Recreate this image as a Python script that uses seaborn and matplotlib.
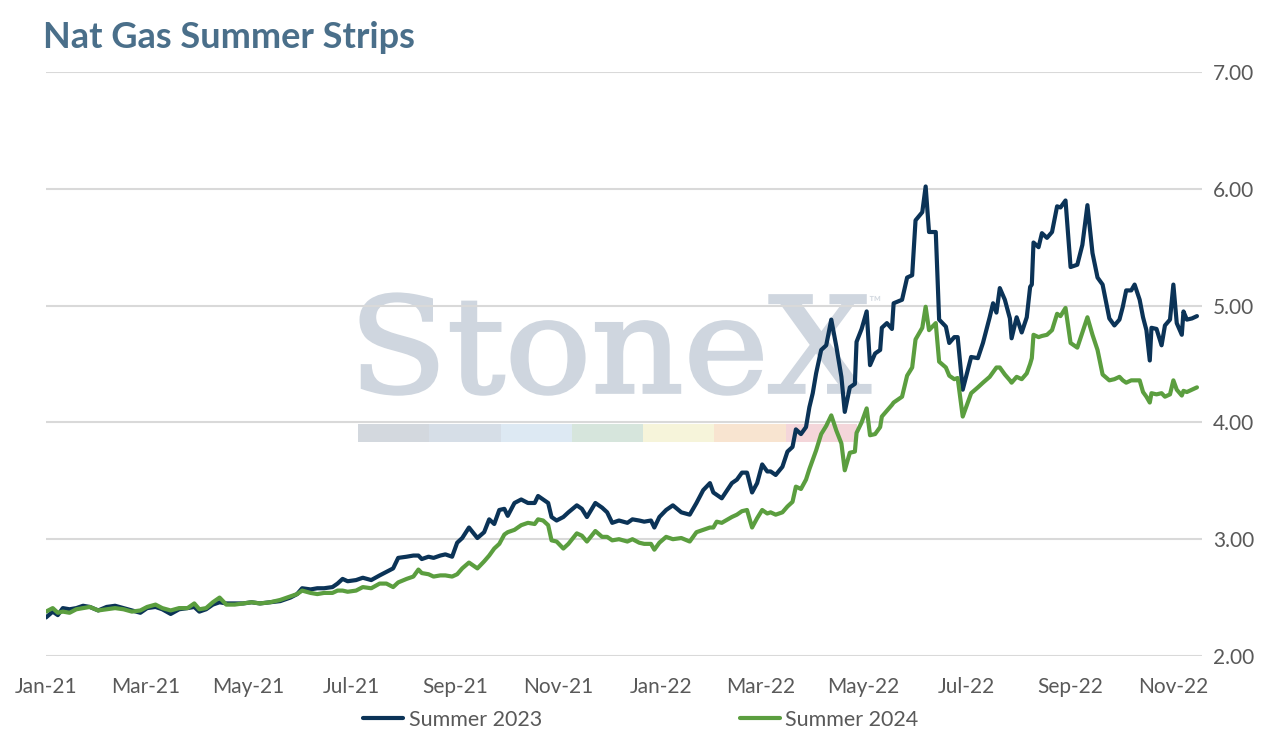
import pandas as pd
import matplotlib.pyplot as plt
import matplotlib.dates as mdates
from matplotlib.patches import Rectangle, PathPatch
from matplotlib.textpath import TextPath
from matplotlib.font_manager import FontProperties
from matplotlib.transforms import Affine2D
from matplotlib.ticker import FormatStrFormatter
import seaborn as sns

# Dias desde 01/01/2021
day_offsets = [
    0, 4, 7, 10, 14, 18, 22, 26, 31, 36,
    41, 46, 51, 56, 60, 65, 69, 74, 79, 84,
    88, 91, 95, 99, 103, 107, 112, 117, 122, 127,
    133, 139, 145, 149, 152, 157, 161, 165, 170, 173,
    176, 179, 184, 188, 193, 198, 202, 206, 209, 214,
    218, 221, 223, 227, 230, 234, 237, 241, 244, 247,
    251, 256, 260, 263, 266, 269, 272, 274, 278, 282,
    286, 290, 292, 295, 298, 300, 303, 307, 310, 315,
    318, 321, 326, 330, 333, 336, 340, 345, 348, 352,
    355, 359, 361, 364, 368, 372, 377, 382, 386, 390,
    394, 396, 398, 401, 407, 410, 413, 416, 419, 422,
    425, 428, 430, 433, 437, 440, 443, 445, 448, 451,
    453, 455, 457, 460, 463, 466, 469, 472, 474, 477,
    480, 481, 484, 487, 489, 492, 495, 496, 499, 502,
    503, 508, 511, 514, 516, 520, 522, 524, 528, 530,
    534, 536, 539, 541, 544, 549, 553, 556, 560, 562,
    564, 566, 569, 572, 573, 576, 579, 582, 584, 585,
    586, 589, 591, 594, 597, 600, 602, 605, 608, 612,
    615, 618, 621, 624, 627, 631, 634, 637, 639, 641,
    644, 646, 649, 651, 653, 655, 656, 659, 662, 664,
    667, 669, 671, 674, 675, 677, 680, 683,
]

summer_2023 = [
    2.33, 2.38, 2.35, 2.41, 2.40, 2.41, 2.43, 2.42, 2.39, 2.42,
    2.43, 2.41, 2.39, 2.37, 2.41, 2.42, 2.40, 2.36, 2.40, 2.41,
    2.42, 2.38, 2.40, 2.44, 2.46, 2.45, 2.45, 2.45, 2.46, 2.45,
    2.46, 2.47, 2.50, 2.53, 2.58, 2.57, 2.58, 2.58, 2.59, 2.62,
    2.66, 2.64, 2.65, 2.67, 2.65, 2.69, 2.72, 2.75, 2.84, 2.85,
    2.86, 2.86, 2.83, 2.85, 2.84, 2.86, 2.87, 2.85, 2.97, 3.01,
    3.10, 3.01, 3.06, 3.17, 3.13, 3.25, 3.26, 3.20, 3.31, 3.34,
    3.31, 3.31, 3.37, 3.34, 3.31, 3.19, 3.16, 3.19, 3.23, 3.29,
    3.26, 3.19, 3.31, 3.27, 3.23, 3.14, 3.16, 3.14, 3.17, 3.16,
    3.15, 3.16, 3.10, 3.19, 3.25, 3.29, 3.23, 3.21, 3.31, 3.42,
    3.48, 3.40, 3.38, 3.35, 3.48, 3.51, 3.57, 3.57, 3.40, 3.48,
    3.64, 3.58, 3.58, 3.55, 3.62, 3.75, 3.79, 3.94, 3.90, 3.96,
    4.13, 4.25, 4.42, 4.62, 4.66, 4.88, 4.65, 4.39, 4.09, 4.30,
    4.33, 4.69, 4.80, 4.95, 4.49, 4.59, 4.62, 4.81, 4.85, 4.80,
    5.02, 5.05, 5.24, 5.26, 5.73, 5.80, 6.02, 5.63, 5.63, 4.88,
    4.82, 4.68, 4.73, 4.73, 4.28, 4.56, 4.55, 4.68, 4.90, 5.02,
    4.94, 5.15, 5.05, 4.89, 4.72, 4.90, 4.77, 4.90, 5.16, 5.18,
    5.54, 5.50, 5.62, 5.58, 5.63, 5.85, 5.84, 5.90, 5.33, 5.35,
    5.52, 5.86, 5.45, 5.24, 5.18, 4.89, 4.83, 4.88, 4.99, 5.13,
    5.13, 5.18, 5.05, 4.90, 4.79, 4.53, 4.81, 4.80, 4.66, 4.83,
    4.88, 5.18, 4.85, 4.75, 4.95, 4.88, 4.89, 4.91,
]

summer_2024 = [
    2.38, 2.41, 2.37, 2.38, 2.37, 2.40, 2.41, 2.42, 2.39, 2.40,
    2.41, 2.40, 2.38, 2.39, 2.42, 2.44, 2.41, 2.39, 2.41, 2.41,
    2.45, 2.40, 2.41, 2.46, 2.50, 2.44, 2.44, 2.45, 2.46, 2.45,
    2.46, 2.48, 2.51, 2.53, 2.56, 2.54, 2.53, 2.54, 2.54, 2.56,
    2.56, 2.55, 2.56, 2.59, 2.58, 2.62, 2.62, 2.59, 2.63, 2.66,
    2.68, 2.74, 2.71, 2.70, 2.68, 2.69, 2.69, 2.68, 2.70, 2.75,
    2.80, 2.75, 2.81, 2.86, 2.92, 2.96, 3.04, 3.06, 3.08, 3.12,
    3.14, 3.13, 3.17, 3.16, 3.12, 2.99, 2.98, 2.92, 2.96, 3.05,
    3.03, 2.98, 3.07, 3.02, 3.02, 2.99, 3.00, 2.98, 3.00, 2.97,
    2.96, 2.96, 2.91, 2.97, 3.02, 3.00, 3.01, 2.98, 3.06, 3.08,
    3.10, 3.10, 3.15, 3.14, 3.19, 3.21, 3.24, 3.25, 3.10, 3.18,
    3.25, 3.22, 3.23, 3.21, 3.23, 3.28, 3.32, 3.45, 3.43, 3.51,
    3.60, 3.68, 3.76, 3.90, 3.97, 4.06, 3.93, 3.82, 3.59, 3.74,
    3.75, 3.91, 4.00, 4.12, 3.89, 3.90, 3.96, 4.05, 4.10, 4.15,
    4.17, 4.22, 4.40, 4.47, 4.71, 4.81, 4.99, 4.79, 4.85, 4.52,
    4.47, 4.40, 4.37, 4.38, 4.05, 4.25, 4.30, 4.34, 4.39, 4.43,
    4.47, 4.47, 4.41, 4.36, 4.34, 4.39, 4.37, 4.42, 4.50, 4.55,
    4.75, 4.73, 4.74, 4.75, 4.79, 4.93, 4.91, 4.98, 4.68, 4.64,
    4.77, 4.90, 4.75, 4.62, 4.41, 4.36, 4.37, 4.39, 4.36, 4.34,
    4.36, 4.36, 4.36, 4.26, 4.22, 4.17, 4.25, 4.24, 4.25, 4.22,
    4.24, 4.36, 4.28, 4.23, 4.27, 4.26, 4.28, 4.30,
]

y_ticks = [2, 3, 4, 5, 6, 7]
cores = {'Summer 2023': '#0b3357', 'Summer 2024': '#5b9e3f'}
inicio = pd.Timestamp('2021-01-01')

df = pd.DataFrame({
    'Date': inicio + pd.to_timedelta(day_offsets, unit='D'),
    'Summer 2023': summer_2023,
    'Summer 2024': summer_2024,
})
df_long = df.melt(id_vars='Date', var_name='Strip', value_name='Price')

sns.set_theme(style="white")
plt.rcParams['font.family'] = ['Lato', 'DejaVu Sans']
cinza = '#595959'

fig = plt.figure(figsize=(12.74, 7.43), dpi=100)
ax = fig.add_axes([0.0361, 0.1171, 0.9074, 0.786])

# marca d'água StoneX (texto esticado para ocupar a mesma caixa)
tp = TextPath((0, 0), 'StoneX', size=1, prop=FontProperties(family='DejaVu Serif'))
ext = tp.get_extents()
x_esq, x_dir, base, topo = 0.2725, 0.7128, 0.4515, 0.6200
sx = (x_dir - x_esq) / ext.width
sy = (topo - base) / ext.y1
trans = Affine2D().translate(-ext.x0, 0).scale(sx, sy).translate(x_esq, base) + ax.transAxes
ax.add_patch(PathPatch(tp, transform=trans, facecolor='#cfd6df', edgecolor='#cfd6df',
                       lw=2.2, zorder=0.2))
ax.text(0.711, 0.604, '™', transform=ax.transAxes, fontsize=12,
        color='#d3d9e0', ha='left', va='center', zorder=0.2)
faixa = ['#d3d8de', '#d6dee7', '#dde9f3', '#d6e5dc', '#f6f4da', '#f8e4d0', '#f4d6da']
largura = (0.7016 - 0.2699) / len(faixa)
for i, c in enumerate(faixa):
    ax.add_patch(Rectangle((0.2699 + i * largura, 0.3664), largura, 0.031,
                           transform=ax.transAxes, color=c, lw=0, zorder=0.2))

sns.lineplot(data=df_long, x='Date', y='Price', hue='Strip', palette=cores,
             linewidth=3, ax=ax, zorder=3)

ax.set_xlim(inicio, inicio + pd.Timedelta(days=686))
ax.set_ylim(2, 7)
ax.set_yticks(y_ticks)
ax.yaxis.set_major_formatter(FormatStrFormatter('%.2f'))
ax.yaxis.tick_right()
ax.xaxis.set_major_locator(mdates.MonthLocator(bymonth=[1, 3, 5, 7, 9, 11]))
ax.xaxis.set_major_formatter(mdates.DateFormatter('%b-%y'))
ax.set_xlabel('')
ax.set_ylabel('')
ax.tick_params(axis='y', length=0, pad=8, labelsize=15, labelcolor=cinza)
ax.tick_params(axis='x', length=0, pad=15, labelsize=15, labelcolor=cinza)
ax.grid(axis='y', color='#d9d9d9', linewidth=1.5, zorder=0.5)
ax.grid(axis='x', visible=False)
ax.set_axisbelow(True)
for s in ax.spines.values():
    s.set_visible(False)

fig.text(43 / 1274, 1 - 38 / 743, 'Nat Gas Summer Strips', fontsize=26,
         fontweight='bold', color='#4a6f8a', va='center', ha='left')

sns.move_legend(ax, 'center', bbox_to_anchor=(0.503, 1 - 720 / 743),
                bbox_transform=fig.transFigure, ncol=2, frameon=False, title=None,
                fontsize=15.5, handlelength=1.85, handletextpad=0.25, columnspacing=9.2)
for t in ax.get_legend().get_texts():
    t.set_color(cinza)

fig.savefig('out.png', dpi=100)
